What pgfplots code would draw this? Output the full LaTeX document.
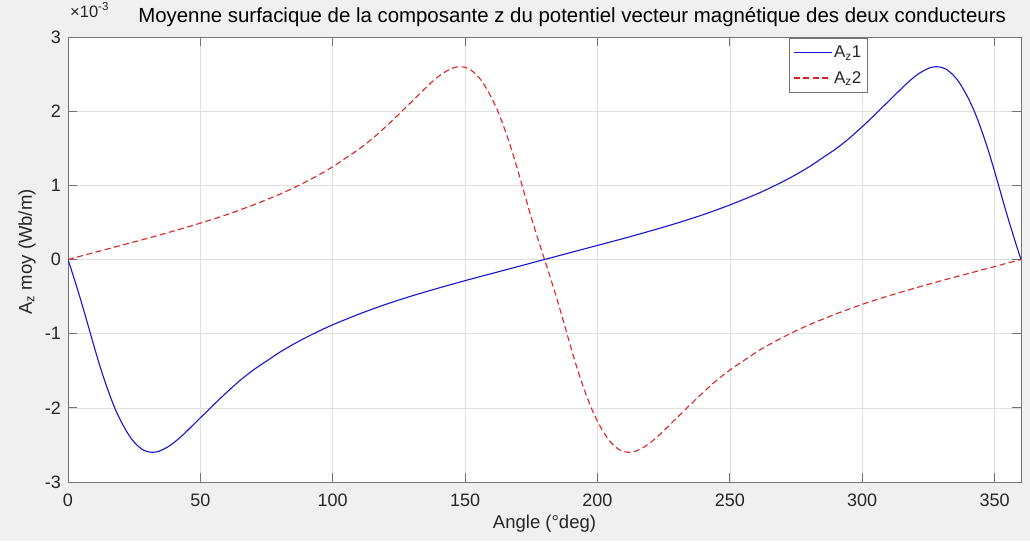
\documentclass[border=0pt]{standalone}
\usepackage{fontspec}
\setmainfont{Liberation Sans}
\usepackage{pgfplots}
\pgfplotsset{compat=1.18}
\definecolor{figbg}{RGB}{240,240,240}
\definecolor{axgray}{RGB}{38,38,38}
\definecolor{framegray}{RGB}{115,115,115}
\definecolor{gridgray}{RGB}{223,223,223}
\definecolor{mblue}{RGB}{20,20,215}
\definecolor{mred}{RGB}{220,35,35}
\begin{document}
\begin{tikzpicture}
\fill[figbg] (0pt,0pt) rectangle (1030pt,541pt);
\begin{axis}[
  name=ax,
  at={(68pt,59pt)}, anchor=south west,
  scale only axis, width=953pt, height=445pt,
  axis background/.style={fill=white},
  xmin=0, xmax=360, ymin=-3, ymax=3,
  xtick={0,50,...,350}, ytick={-3,-2,-1,0,1,2,3},
  grid=major, major grid style={gridgray, line width=0.6pt},
  axis line style={framegray, line width=0.8pt},
  tick style={framegray, line width=0.8pt},
  major tick length=9pt,
  tick align=inside,
  /pgf/number format/assume math mode=true,
  ticklabel style={font=\fontsize{18}{21}\selectfont, text=axgray},
  xticklabel style={yshift=-8pt},
  yticklabel style={xshift=-3.5pt},
  xlabel={Angle (°deg)},
  ylabel={A\textsubscript{z} moy (Wb/m)},
  xlabel style={at={(axis description cs:0.5,-0.094)}, anchor=center, font=\fontsize{18.5}{22}\selectfont, text=axgray},
  ylabel style={at={(axis description cs:-0.043,0.517)}, anchor=center, font=\fontsize{18.5}{22}\selectfont, text=axgray},
  title={Moyenne surfacique de la composante z du potentiel vecteur magnétique des deux conducteurs},
  title style={at={(axis description cs:0.529,1)}, anchor=base, yshift=8.5pt, font=\fontsize{20.4}{24}\selectfont, text=black},
  legend style={at={(0.839,0.998)}, anchor=north east, draw=framegray, fill=white, font=\fontsize{17}{20}\selectfont, text=axgray, inner xsep=4pt, inner ysep=6pt, row sep=8pt, cells={anchor=west}},
  legend image code/.code={\draw[#1] (0pt,0pt) -- (38pt,0pt);},
]
\addplot[mblue, line width=1.1pt, smooth, tension=0.4] coordinates {
(0,0) (2,-0.22) (4,-0.45) (6,-0.69) (8,-0.94) (10,-1.19) (12,-1.43) (14,-1.65) (16,-1.85) (18,-2.03) (20,-2.18) (22,-2.31) (24,-2.42) (26,-2.50) (28,-2.56) (30,-2.59) (32,-2.60) (34,-2.59) (36,-2.56) (38,-2.52) (40,-2.47) (42,-2.41) (44,-2.345) (46,-2.275) (48,-2.205) (50,-2.135) (53,-2.03) (56,-1.925) (60,-1.79) (65,-1.63) (70,-1.49) (75,-1.37) (80,-1.25) (85,-1.145) (90,-1.05) (95,-0.962) (100,-0.88) (110,-0.735) (120,-0.605) (130,-0.49) (140,-0.385) (150,-0.285) (160,-0.19) (170,-0.095) (180,0)
(190,0.095) (200,0.19) (210,0.285) (220,0.385) (230,0.49) (240,0.605) (250,0.735) (260,0.88) (265,0.962) (270,1.05) (275,1.145) (280,1.25) (285,1.37) (290,1.49) (295,1.63) (300,1.79) (304,1.925) (307,2.03) (310,2.135) (312,2.205) (314,2.275) (316,2.345) (318,2.41) (320,2.47) (322,2.52) (324,2.56) (326,2.59) (328,2.60) (330,2.59) (332,2.56) (334,2.50) (336,2.42) (338,2.31) (340,2.18) (342,2.03) (344,1.85) (346,1.65) (348,1.43) (350,1.19) (352,0.94) (354,0.69) (356,0.45) (358,0.22) (360,0)
};
\addlegendentry{A\textsubscript{z}1}
\addplot[mred, line width=1.1pt, dash pattern=on 6pt off 3.5pt, smooth, tension=0.4] coordinates {
(0,0) (10,0.095) (20,0.19) (30,0.285) (40,0.385) (50,0.49) (60,0.605) (70,0.735) (80,0.88) (85,0.962) (90,1.05) (95,1.145) (100,1.25) (105,1.37) (110,1.49) (115,1.63) (120,1.79) (124,1.925) (127,2.03) (130,2.135) (132,2.205) (134,2.275) (136,2.345) (138,2.41) (140,2.47) (142,2.52) (144,2.56) (146,2.59) (148,2.60) (150,2.59) (152,2.56) (154,2.50) (156,2.42) (158,2.31) (160,2.18) (162,2.03) (164,1.85) (166,1.65) (168,1.43) (170,1.19) (172,0.94) (174,0.69) (176,0.45) (178,0.22) (180,0)
(182,-0.22) (184,-0.45) (186,-0.69) (188,-0.94) (190,-1.19) (192,-1.43) (194,-1.65) (196,-1.85) (198,-2.03) (200,-2.18) (202,-2.31) (204,-2.42) (206,-2.50) (208,-2.56) (210,-2.59) (212,-2.60) (214,-2.59) (216,-2.56) (218,-2.52) (220,-2.47) (222,-2.41) (224,-2.345) (226,-2.275) (228,-2.205) (230,-2.135) (233,-2.03) (236,-1.925) (240,-1.79) (245,-1.63) (250,-1.49) (255,-1.37) (260,-1.25) (265,-1.145) (270,-1.05) (275,-0.962) (280,-0.88) (290,-0.735) (300,-0.605) (310,-0.49) (320,-0.385) (330,-0.285) (340,-0.19) (350,-0.095) (360,0)
};
\addlegendentry{A\textsubscript{z}2}
\end{axis}
\node[anchor=base west, font=\fontsize{16.5}{19}\selectfont, text=axgray, inner sep=0pt] at ([xshift=2pt, yshift=20pt]ax.north west) {×10\textsuperscript{-3}};
\pgfresetboundingbox
\useasboundingbox (0pt,0pt) rectangle (1030pt,541pt);
\end{tikzpicture}
\end{document}
